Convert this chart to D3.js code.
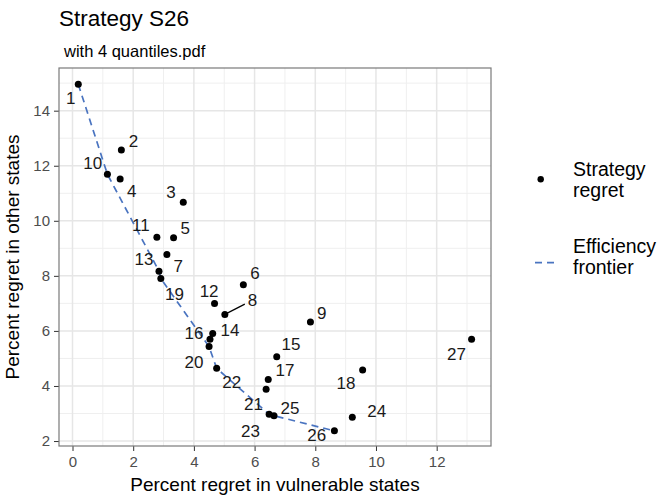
<!DOCTYPE html>
<html>
<head>
<meta charset="utf-8">
<script src="https://cdn.jsdelivr.net/npm/d3@7"></script>
<style>
  html, body { margin: 0; padding: 0; background: #fff; }
  svg { display: block; font-family: "Liberation Sans", Arial, Helvetica, sans-serif; }
</style>
</head>
<body>
<svg id="chart" width="670" height="495"></svg>
<script>
// ---- data ----
const strategyIds = [1,2,3,4,5,6,7,8,9,10,11,12,13,14,15,16,17,18,19,20,21,22,23,24,25,26,27];
const vulnerableRegret = [0.19,1.61,3.65,1.57,3.33,5.63,3.11,5.02,7.84,1.15,2.78,4.68,2.85,4.62,6.73,4.53,6.45,9.56,2.91,4.50,6.38,4.75,6.48,9.22,6.64,8.63,13.15];
const otherRegret      = [14.96,12.57,10.67,11.52,9.38,7.68,8.78,6.60,6.32,11.69,9.40,7.00,8.17,5.91,5.06,5.70,4.24,4.58,7.90,5.43,3.88,4.64,2.97,2.86,2.92,2.37,5.70];
const frontierIds = [1,10,13,19,20,22,23,25,26];
const xTicks = [0,2,4,6,8,10,12];
const yTicks = [2,4,6,8,10,12,14];
const legendLabels = [["Strategy","regret"],["Efficiency","frontier"]];

// label placement (repel-like offsets in px), kept apart from data
const labelOffsets = {
  1:[-7.6,14], 2:[12,-9], 3:[-12.3,-10.6], 4:[11.7,11.7], 5:[11.6,-9.7],
  6:[11.7,-11.4], 7:[11.3,11.4], 8:[27.7,-14.3], 9:[11.4,-9.3], 10:[-14.6,-11],
  11:[-16,-12.3], 12:[-5.4,-12.6], 13:[-15,-12], 14:[17.3,-4], 15:[14.3,-13.4],
  16:[-16,-6], 17:[16.7,-9.3], 18:[-16.7,13.3], 19:[13.6,15.6], 20:[-15,15],
  21:[-12.7,15], 22:[15,13.4], 23:[-18.6,16.4], 24:[24.4,-6.6], 25:[16,-8],
  26:[-17.6,4.3], 27:[-15,14.7]
};
const segmentLabels = [8];

const points = strategyIds.map((id,i)=>({id, x: vulnerableRegret[i], y: otherRegret[i]}));
const byId = new Map(points.map(p=>[p.id,p]));
const frontier = frontierIds.map(id=>byId.get(id));

// ---- layout ----
const panel = {left: 59, right: 491, top: 68, bottom: 446};
const svg = d3.select("#chart");

const x = d3.scaleLinear().domain([-0.445, 13.79]).range([panel.left, panel.right]);
const y = d3.scaleLinear().domain([1.82, 15.55]).range([panel.bottom, panel.top]);

// title
svg.append("text").attr("x", 59).attr("y", 26).attr("font-size", 22.5).attr("fill", "#000").text("Strategy S26");
svg.append("text").attr("x", 64).attr("y", 56.5).attr("font-size", 16.5).attr("fill", "#000").text("with 4 quantiles.pdf");

// grid
const g = svg.append("g");
const minorX = d3.range(1, 14, 2), minorY = d3.range(3, 16, 2);
g.selectAll(".mgx").data(minorX).join("line")
  .attr("x1", d=>x(d)).attr("x2", d=>x(d)).attr("y1", panel.top).attr("y2", panel.bottom)
  .attr("stroke", "#efefef").attr("stroke-width", 1);
g.selectAll(".mgy").data(minorY.filter(d=>y(d)>panel.top)).join("line")
  .attr("y1", d=>y(d)).attr("y2", d=>y(d)).attr("x1", panel.left).attr("x2", panel.right)
  .attr("stroke", "#efefef").attr("stroke-width", 1);
g.selectAll(".Mgx").data(xTicks).join("line")
  .attr("x1", d=>x(d)).attr("x2", d=>x(d)).attr("y1", panel.top).attr("y2", panel.bottom)
  .attr("stroke", "#e6e6e6").attr("stroke-width", 1.5);
g.selectAll(".Mgy").data(yTicks).join("line")
  .attr("y1", d=>y(d)).attr("y2", d=>y(d)).attr("x1", panel.left).attr("x2", panel.right)
  .attr("stroke", "#e6e6e6").attr("stroke-width", 1.5);

// axes
const xAxis = d3.axisBottom(x).tickValues(xTicks).tickSize(5).tickPadding(5).tickFormat(d3.format("d"));
const yAxis = d3.axisLeft(y).tickValues(yTicks).tickSize(5).tickPadding(4).tickFormat(d3.format("d"));
const gx = svg.append("g").attr("transform", `translate(0,${panel.bottom})`).call(xAxis);
const gy = svg.append("g").attr("transform", `translate(${panel.left},0)`).call(yAxis);
[gx, gy].forEach(a=>{
  a.select(".domain").remove();
  a.selectAll(".tick line").attr("stroke", "#333").attr("stroke-width", 1);
  a.selectAll(".tick text").attr("fill", "#4d4d4d").attr("font-size", 15)
    .attr("font-family", "'Liberation Sans', Arial, Helvetica, sans-serif");
});

// panel border
svg.append("rect").attr("x", panel.left).attr("y", panel.top)
  .attr("width", panel.right-panel.left).attr("height", panel.bottom-panel.top)
  .attr("fill", "none").attr("stroke", "#7a7a7a").attr("stroke-width", 1.2);

// axis titles
svg.append("text").attr("x", (panel.left+panel.right)/2).attr("y", 491).attr("text-anchor", "middle")
  .attr("font-size", 19).attr("fill", "#000").text("Percent regret in vulnerable states");
svg.append("text").attr("transform", `translate(19,${(panel.top+panel.bottom)/2}) rotate(-90)`)
  .attr("text-anchor", "middle").attr("font-size", 19).attr("fill", "#000").text("Percent regret in other states");

// frontier line
const line = d3.line().x(d=>x(d.x)).y(d=>y(d.y));
svg.append("path").datum(frontier).attr("d", line).attr("fill", "none")
  .attr("stroke", "#4a74c0").attr("stroke-width", 1.7).attr("stroke-dasharray", "7,5");

// points
svg.append("g").selectAll("circle").data(points).join("circle")
  .attr("cx", d=>x(d.x)).attr("cy", d=>y(d.y)).attr("r", 3.5).attr("fill", "#000");

// label segments
svg.append("g").selectAll("line").data(points.filter(p=>segmentLabels.includes(p.id))).join("line")
  .attr("x1", d=>x(d.x)).attr("y1", d=>y(d.y))
  .attr("x2", d=>x(d.x)+labelOffsets[d.id][0]*0.72).attr("y2", d=>y(d.y)+labelOffsets[d.id][1]*0.72)
  .attr("stroke", "#000").attr("stroke-width", 1.2);

// labels
svg.append("g").selectAll("text").data(points).join("text")
  .attr("x", d=>x(d.x)+labelOffsets[d.id][0]).attr("y", d=>y(d.y)+labelOffsets[d.id][1])
  .attr("dy", "0.36em").attr("text-anchor", "middle").attr("font-size", 17).attr("fill", "#1a1a1a")
  .text(d=>d.id);

// legend
const lg = svg.append("g");
lg.append("circle").attr("cx", 540.7).attr("cy", 179.3).attr("r", 3.2).attr("fill", "#000");
lg.append("line").attr("x1", 535).attr("x2", 559).attr("y1", 262.7).attr("y2", 262.7)
  .attr("stroke", "#4a74c0").attr("stroke-width", 1.7).attr("stroke-dasharray", "7,5");
const legendBase = [176, 253];
legendLabels.forEach((lines, i)=>{
  lines.forEach((t, j)=>{
    lg.append("text").attr("x", 573).attr("y", legendBase[i] + j*21)
      .attr("font-size", 19.5).attr("fill", "#000").text(t);
  });
});
</script>
</body>
</html>
